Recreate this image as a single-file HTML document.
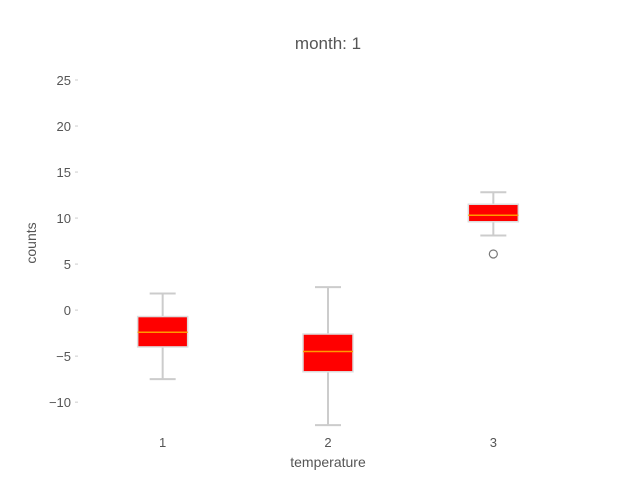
<!DOCTYPE html>
<html><head><meta charset="utf-8"><style>
body{margin:0;background:#fff;}
svg text{font-family:"Liberation Sans",sans-serif;fill:#555;}
</style></head><body>
<svg id="chart" width="640" height="480" xmlns="http://www.w3.org/2000/svg">
<text x="328" y="49" font-size="17" text-anchor="middle">month:  1</text>
<text x="0" y="0" font-size="14" text-anchor="middle" transform="translate(36,243) rotate(-90)">counts</text>
<text x="328" y="467" font-size="14" text-anchor="middle">temperature</text>
<g id="ticks"></g><g id="boxes"></g>
</svg>
<script>
const categories=["1","2","3"];
const whiskerHigh=[1.8,2.5,12.8];
const q3s=[-0.7,-2.6,11.5];
const medians=[-2.4,-4.5,10.3];
const q1s=[-4.0,-6.7,9.6];
const whiskerLow=[-7.5,-12.5,8.1];
const outliers=[[],[],[6.1]];
const yTicks=[-10,-5,0,5,10,15,20,25];
const NS="http://www.w3.org/2000/svg";
const L=80,R=576,T=57,B=427,ymin=-12.7,ymax=27.5;
function sx(i){return L+(i+0.5)/3*(R-L);}
function sy(v){return B-(v-ymin)/(ymax-ymin)*(B-T);}
function mk(tag,attrs,parent){const e=document.createElementNS(NS,tag);for(const k in attrs)e.setAttribute(k,attrs[k]);parent.appendChild(e);return e;}
const tg=document.getElementById('ticks');
yTicks.forEach(v=>{
 const t=mk('text',{x:71,y:sy(v)+5,'font-size':13,'text-anchor':'end'},tg);
 t.textContent=v<0?'\u2212'+Math.abs(v):v;
 
 
 const m=mk('line',{x1:75,x2:78,y1:sy(v),y2:sy(v),stroke:'#ccc'},tg);
 
 
});
categories.forEach((c,i)=>{
 const t=mk('text',{x:sx(i),y:447,'font-size':13,'text-anchor':'middle'},tg);
 t.textContent=c;
 
 
});
const bg=document.getElementById('boxes');
categories.forEach((c,i)=>{
 const g=mk('g',{},bg);
 
 
 const x=sx(i),hw=25,cw=13,st={stroke:'#ccc','stroke-width':2};
 mk('line',Object.assign({x1:x,x2:x,y1:sy(whiskerHigh[i]),y2:sy(q3s[i])},st),g);
 mk('line',Object.assign({x1:x,x2:x,y1:sy(q1s[i]),y2:sy(whiskerLow[i])},st),g);
 mk('line',Object.assign({x1:x-cw,x2:x+cw,y1:sy(whiskerHigh[i]),y2:sy(whiskerHigh[i])},st),g);
 mk('line',Object.assign({x1:x-cw,x2:x+cw,y1:sy(whiskerLow[i]),y2:sy(whiskerLow[i])},st),g);
 mk('rect',{x:x-hw,y:sy(q3s[i]),width:2*hw,height:sy(q1s[i])-sy(q3s[i]),fill:'#ff0000',stroke:'#ddd','stroke-width':1.5},g);
 mk('line',{x1:x-hw,x2:x+hw,y1:sy(medians[i]),y2:sy(medians[i]),stroke:'#ff9900','stroke-width':1.5},g);
 outliers[i].forEach(o=>{
  const p=mk('circle',{cx:x,cy:sy(o),r:4,fill:'none',stroke:'#777','stroke-width':1.2},g);
  
  
 });
});
</script>
</body></html>
